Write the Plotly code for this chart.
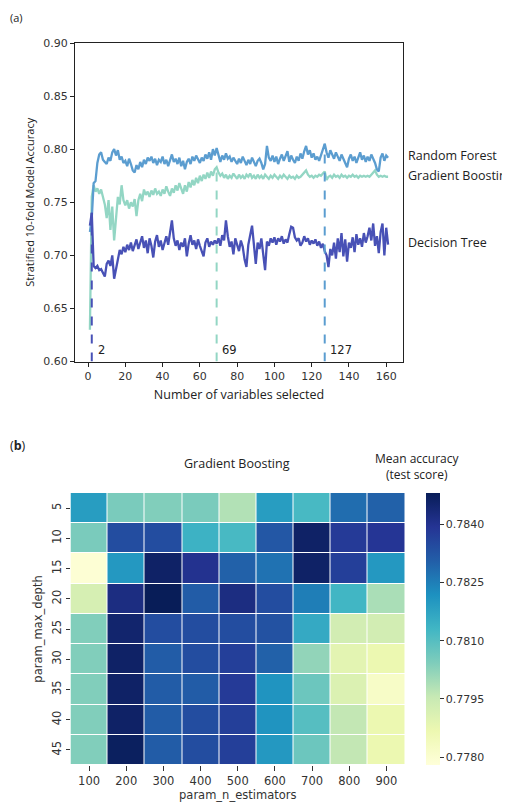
import plotly.graph_objects as go

# ---------------- data: panel (a) ----------------
n_vars = list(range(1, 162))
rf_acc = [0.722, 0.735, 0.768, 0.770, 0.787, 0.795, 0.797, 0.790, 0.788, 0.786,
          0.792, 0.789, 0.797, 0.800, 0.794, 0.799, 0.790, 0.793, 0.787, 0.789,
          0.784, 0.791, 0.786, 0.780, 0.778, 0.785, 0.781, 0.788, 0.783, 0.790,
          0.786, 0.792, 0.789, 0.793, 0.787, 0.791, 0.785, 0.790, 0.788, 0.793,
          0.786, 0.790, 0.784, 0.789, 0.795, 0.788, 0.791, 0.786, 0.792, 0.784,
          0.789, 0.781, 0.788, 0.791, 0.786, 0.793, 0.789, 0.794, 0.790, 0.787,
          0.792, 0.789, 0.795, 0.791, 0.797, 0.790, 0.800, 0.794, 0.801, 0.793,
          0.788, 0.794, 0.790, 0.796, 0.791, 0.793, 0.788, 0.792, 0.789, 0.786,
          0.791, 0.787, 0.793, 0.789, 0.785, 0.790, 0.786, 0.792, 0.788, 0.784,
          0.789, 0.791, 0.787, 0.781, 0.786, 0.803, 0.792, 0.789, 0.794, 0.788,
          0.793, 0.786, 0.791, 0.795, 0.789, 0.793, 0.798, 0.788, 0.794, 0.790,
          0.787, 0.793, 0.789, 0.796, 0.791, 0.798, 0.803, 0.795, 0.799, 0.792,
          0.796, 0.790, 0.793, 0.789, 0.794, 0.799, 0.805, 0.797, 0.792, 0.799,
          0.795, 0.791, 0.797, 0.793, 0.789, 0.795, 0.791, 0.786, 0.783, 0.791,
          0.795, 0.789, 0.793, 0.787, 0.792, 0.797, 0.790, 0.794, 0.788, 0.793,
          0.789, 0.795, 0.791, 0.787, 0.781, 0.779, 0.792, 0.796, 0.789, 0.794, 0.792]
gb_acc = [0.630, 0.755, 0.766, 0.760, 0.763, 0.758, 0.762, 0.756, 0.748, 0.735,
          0.752, 0.724, 0.746, 0.714, 0.738, 0.755, 0.748, 0.766, 0.752, 0.747,
          0.752, 0.744, 0.750, 0.746, 0.753, 0.737, 0.752, 0.758, 0.751, 0.762,
          0.757, 0.760, 0.755, 0.761, 0.757, 0.763, 0.758, 0.760, 0.756, 0.762,
          0.758, 0.765, 0.760, 0.756, 0.763, 0.759, 0.766, 0.761, 0.768, 0.762,
          0.758, 0.766, 0.760, 0.769, 0.764, 0.771, 0.766, 0.773, 0.768, 0.775,
          0.770, 0.776, 0.772, 0.778, 0.773, 0.779, 0.775, 0.781, 0.783, 0.778,
          0.775, 0.777, 0.773, 0.776, 0.772, 0.775, 0.773, 0.777, 0.774, 0.772,
          0.776, 0.773, 0.775, 0.772, 0.776, 0.774, 0.777, 0.773, 0.775, 0.772,
          0.776, 0.773, 0.775, 0.772, 0.776, 0.774, 0.772, 0.775, 0.773, 0.776,
          0.774, 0.772, 0.775, 0.773, 0.776, 0.774, 0.772, 0.775, 0.773, 0.774,
          0.772, 0.775, 0.773, 0.774, 0.776, 0.779, 0.780, 0.776, 0.774, 0.775,
          0.773, 0.775, 0.774, 0.776, 0.775, 0.777, 0.779, 0.771, 0.774, 0.775,
          0.773, 0.776, 0.774, 0.775, 0.773, 0.776, 0.774, 0.775, 0.773, 0.775,
          0.774, 0.776, 0.774, 0.775, 0.773, 0.775, 0.774, 0.775, 0.774, 0.775,
          0.774, 0.776, 0.778, 0.780, 0.776, 0.774, 0.775, 0.774, 0.775, 0.774, 0.774]
dt_acc = [0.728, 0.740, 0.690, 0.688, 0.690, 0.686, 0.687, 0.683, 0.680, 0.692,
          0.695, 0.690, 0.700, 0.678, 0.688, 0.699, 0.705, 0.701, 0.708, 0.703,
          0.710, 0.705, 0.712, 0.704, 0.709, 0.715, 0.706, 0.712, 0.718, 0.707,
          0.714, 0.702, 0.716, 0.709, 0.698, 0.713, 0.719, 0.708, 0.714, 0.705,
          0.712, 0.718, 0.710, 0.722, 0.733, 0.716, 0.709, 0.714, 0.705, 0.712,
          0.708, 0.716, 0.699, 0.711, 0.719, 0.710, 0.714, 0.706, 0.715, 0.709,
          0.703, 0.699, 0.712, 0.716, 0.708, 0.713, 0.710, 0.714, 0.711, 0.716,
          0.709, 0.719, 0.714, 0.733, 0.718, 0.708, 0.713, 0.701, 0.716, 0.710,
          0.704, 0.714, 0.708, 0.696, 0.689, 0.710, 0.718, 0.728, 0.710, 0.692,
          0.712, 0.706, 0.716, 0.699, 0.686, 0.713, 0.709, 0.716, 0.712, 0.717,
          0.710, 0.716, 0.713, 0.718, 0.711, 0.715, 0.712, 0.720, 0.727, 0.726,
          0.717, 0.714, 0.716, 0.709, 0.712, 0.718, 0.713, 0.716, 0.710, 0.714,
          0.711, 0.715, 0.709, 0.713, 0.707, 0.711, 0.704, 0.700, 0.689, 0.706,
          0.700, 0.712, 0.697, 0.716, 0.703, 0.721, 0.699, 0.715, 0.694, 0.712,
          0.707, 0.717, 0.703, 0.720, 0.710, 0.716, 0.708, 0.721, 0.712, 0.718,
          0.726, 0.714, 0.730, 0.709, 0.718, 0.702, 0.722, 0.730, 0.700, 0.726, 0.710]
model_names = ["Random Forest", "Gradient Boosting", "Decision Tree"]
label_y = [0.794, 0.775, 0.712]
best_k = [127, 69, 2]

# ---------------- data: panel (b) ----------------
n_estimators = ["100", "200", "300", "400", "500", "600", "700", "800", "900"]
max_depth = ["5", "10", "15", "20", "25", "30", "35", "40", "45"]
mean_acc = [
    [0.7819, 0.7805, 0.7804, 0.7805, 0.7798, 0.7819, 0.7812, 0.7828, 0.7830],
    [0.7805, 0.7834, 0.7834, 0.7814, 0.7812, 0.7832, 0.7846, 0.7838, 0.7839],
    [0.7779, 0.7820, 0.7846, 0.7840, 0.7830, 0.7827, 0.7846, 0.7837, 0.7820],
    [0.7792, 0.7842, 0.7848, 0.7831, 0.7842, 0.7834, 0.7825, 0.7813, 0.7799],
    [0.7804, 0.7845, 0.7834, 0.7834, 0.7834, 0.7833, 0.7816, 0.7793, 0.7793],
    [0.7804, 0.7846, 0.7831, 0.7834, 0.7837, 0.7830, 0.7802, 0.7789, 0.7787],
    [0.7804, 0.7846, 0.7831, 0.7831, 0.7838, 0.7821, 0.7807, 0.7791, 0.7782],
    [0.7804, 0.7846, 0.7831, 0.7834, 0.7837, 0.7821, 0.7810, 0.7796, 0.7787],
    [0.7804, 0.7847, 0.7831, 0.7834, 0.7837, 0.7820, 0.7807, 0.7796, 0.7787],
]
cbar_ticks = [0.7780, 0.7795, 0.7810, 0.7825, 0.7840]

# ---------------- styling ----------------
OFF = 8                      # page offset of the rendered figure
W, H = 510 - OFF, 803 - OFF
colors = {"Random Forest": "#5b9dd0", "Gradient Boosting": "#93d6c4", "Decision Tree": "#4851b6"}
series = {"Random Forest": rf_acc, "Gradient Boosting": gb_acc, "Decision Tree": dt_acc}
tick_font = dict(family="DejaVu Sans", size=11, color="#333333")
text_font = dict(family="Open Sans", size=12.5, color="#222222")
heat_font = dict(family="DejaVu Sans", size=11.5, color="#333333")

def px_x(p):
    return (p - OFF) / W

def px_y(p):
    return 1 - (p - OFF) / H

fig = go.Figure()

# panel (a) lines
for name in ["Gradient Boosting", "Random Forest", "Decision Tree"]:
    fig.add_trace(go.Scatter(x=n_vars, y=series[name], mode="lines",
                             line=dict(color=colors[name], width=2.3),
                             showlegend=False, xaxis="x", yaxis="y"))

# dashed markers of the best number of variables
for name, k in zip(model_names, best_k):
    top = series[name][n_vars.index(k)]
    fig.add_trace(go.Scatter(x=[k, k], y=[0.60, top], mode="lines",
                             line=dict(color=colors[name], width=2, dash="dash"),
                             showlegend=False, xaxis="x", yaxis="y"))
    fig.add_annotation(x=k + 2, y=0.611, xref="x", yref="y", text=str(k),
                       showarrow=False, xanchor="left", yanchor="middle",
                       font=dict(family="DejaVu Sans", size=11.5, color="#222222"))

for name, ly in zip(model_names, label_y):
    fig.add_annotation(x=px_x(406), y=ly, xref="paper", yref="y", text=name,
                       showarrow=False, xanchor="left", yanchor="middle", font=text_font)

# panel (b) heatmap
fig.add_trace(go.Heatmap(
    x=n_estimators, y=max_depth, z=mean_acc, colorscale="YlGnBu",
    zmin=0.7778, zmax=0.7848, xgap=1, ygap=1, xaxis="x2", yaxis="y2",
    colorbar=dict(
        x=px_x(426), xanchor="left", xpad=0, ypad=0, thickness=14,
        y=px_y(493), yanchor="top", len=(765 - 493) / H, lenmode="fraction",
        tickvals=cbar_ticks, tickformat=".4f", ticks="outside", ticklen=4,
        tickcolor="#333333", outlinewidth=0,
        tickfont=dict(family="DejaVu Sans", size=11, color="#333333"),
    ),
))

axis_common = dict(automargin=False, showgrid=False, zeroline=False)

fig.update_layout(
    template="none",
    width=W, height=H, margin=dict(l=0, r=0, t=0, b=0, pad=0),
    paper_bgcolor="white", plot_bgcolor="white",
    xaxis=dict(domain=[px_x(75), px_x(403)], range=[-7, 169], dtick=20, tick0=0,
               showline=True, linecolor="#222222", linewidth=1.2, mirror=True,
               ticks="outside", ticklen=4, tickcolor="#222222",
               tickfont=tick_font, **axis_common,
               title=dict(text="Number of variables selected", font=text_font, standoff=8)),
    yaxis=dict(domain=[px_y(361.5), px_y(43)], range=[0.60, 0.90], dtick=0.05, tick0=0.60,
               tickformat=".2f",
               showline=True, linecolor="#222222", linewidth=1.2, mirror=True,
               ticks="outside", ticklen=4, tickcolor="#222222",
               tickfont=tick_font, **axis_common,
               title=dict(text="Stratified 10-fold Model Accuracy",
                          font=dict(family="Open Sans", size=11, color="#222222"), standoff=6)),
    xaxis2=dict(domain=[px_x(70.5), px_x(405)], anchor="y2", type="category",
                tickmode="array", tickvals=n_estimators, ticktext=n_estimators,
                ticks="outside", ticklen=5, tickcolor="#333333", tickfont=heat_font,
                showline=False, **axis_common,
                title=dict(text="param_n_estimators", font=heat_font, standoff=3)),
    yaxis2=dict(domain=[px_y(765), px_y(493)], anchor="x2", type="category",
                autorange="reversed",
                tickmode="array", tickvals=max_depth, ticktext=max_depth,
                ticks="outside", ticklen=4, tickcolor="#333333",
                tickangle=-90, tickfont=heat_font,
                showline=False, **axis_common,
                title=dict(text="param_max_depth", font=heat_font, standoff=4)),
)

fig.add_annotation(x=px_x(8), y=px_y(18), xref="paper", yref="paper", text="(a)",
                   showarrow=False, xanchor="left", yanchor="middle",
                   font=dict(family="Open Sans", size=11, color="#222222"))
fig.add_annotation(x=px_x(8), y=px_y(445), xref="paper", yref="paper", text="(<b>b</b>)",
                   showarrow=False, xanchor="left", yanchor="middle",
                   font=dict(family="Open Sans", size=12.5, color="#222222"))
fig.add_annotation(x=px_x(237), y=px_y(463), xref="paper", yref="paper", text="Gradient Boosting",
                   showarrow=False, yanchor="middle", font=text_font)
fig.add_annotation(x=px_x(462), y=px_y(466), xref="paper", yref="paper",
                   text="Mean accuracy<br>(test score)", showarrow=False, yanchor="middle",
                   font=dict(family="Open Sans", size=12, color="#222222"))

fig.write_html("out.html")
